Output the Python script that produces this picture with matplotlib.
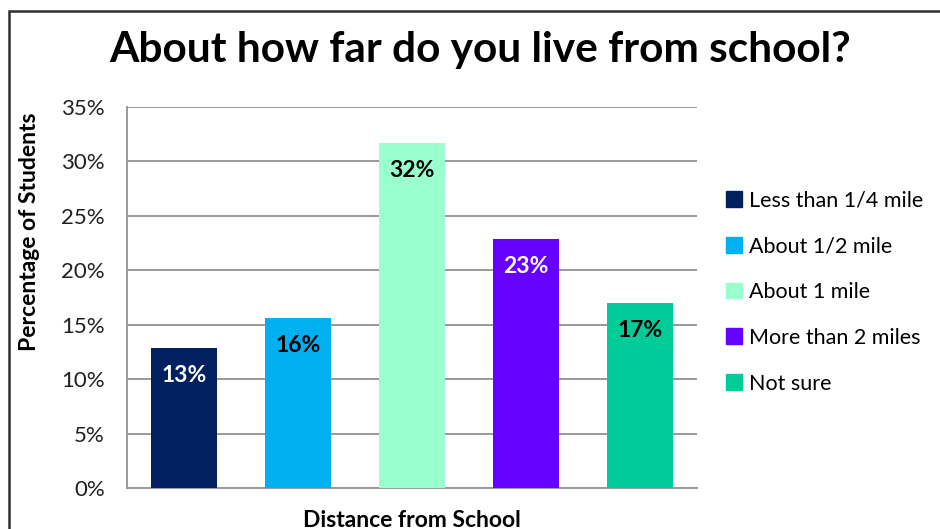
import matplotlib.pyplot as plt
import matplotlib.patches as mpatches

plt.rcParams["font.family"] = ["Lato", "DejaVu Sans"]

# Survey data
categories = ["Less than 1/4 mile", "About 1/2 mile", "About 1 mile",
              "More than 2 miles", "Not sure"]
percentages = [12.9, 15.6, 31.7, 22.9, 17.0]
bar_colors = ["#002060", "#00B0F0", "#99FFCC", "#6600FF", "#00CC99"]
label_colors = ["white", "black", "black", "white", "black"]
y_ticks = [0, 5, 10, 15, 20, 25, 30, 35]

fig = plt.figure(figsize=(9.4, 5.29), dpi=100)
ax = fig.add_axes([0.1351, 0.0775, 0.6064, 0.7202])

x = range(len(categories))
bars = ax.bar(x, percentages, width=0.585, color=bar_colors, zorder=3)

for bar, val, col in zip(bars, percentages, label_colors):
    ax.annotate(f"{round(val)}%", (bar.get_x() + bar.get_width() / 2, val),
                xytext=(0, -20), textcoords="offset points",
                ha="center", va="center", fontsize=16.5, fontweight="bold",
                color=col, zorder=4)

ax.set_ylim(0, 35)
ax.set_xlim(-0.5, len(categories) - 0.5)
ax.set_yticks(y_ticks)
ax.set_yticklabels([f"{t}%" for t in y_ticks], fontsize=16, color="#202020")
ax.set_xticks([])
ax.tick_params(axis="y", length=0, pad=16)
ax.yaxis.grid(True, color="#9A9A9A", linewidth=1.4, zorder=0)
for side in ["top", "right"]:
    ax.spines[side].set_visible(False)
for side in ["left", "bottom"]:
    ax.spines[side].set_color("#9A9A9A")
    ax.spines[side].set_linewidth(1.4)

fig.text(0.031, 0.5625, "Percentage of Students", ha="center", va="center",
         rotation=90, fontsize=16.5, fontweight="bold")
fig.text(0.438, 0.017, "Distance from School", ha="center", va="center",
         fontsize=16.5, fontweight="bold")
fig.text(0.511, 0.905, "About how far do you live from school?", ha="center",
         va="center", fontsize=30.5, fontweight="bold")

handles = [mpatches.Patch(color=c) for c in bar_colors]
fig.legend(handles, categories, loc="center left", bbox_to_anchor=(0.761, 0.448),
           frameon=False, fontsize=15.5, handlelength=0.75, handleheight=0.75,
           handletextpad=0.3, labelspacing=1.2, borderpad=0)

# outer chart frame, runs off the canvas on right and bottom
frame = mpatches.Rectangle((9 / 940, -0.1), 1.1, 1 - 11 / 529 + 0.1,
                           transform=fig.transFigure, fill=False,
                           edgecolor="#303030", linewidth=1.8, clip_on=False)
fig.patches.append(frame)

fig.savefig("out.png", dpi=100)
